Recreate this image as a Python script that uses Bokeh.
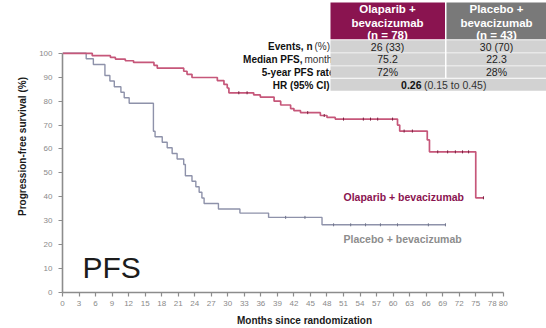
from math import pi
from bokeh.plotting import figure
from bokeh.models import Range1d, FixedTicker, LinearAxis
from bokeh.core.properties import value
from bokeh.embed import file_html
from bokeh.resources import INLINE

# ---------------- data ----------------
ola_months = [0, 5.4, 8.7, 9.6, 11.4, 12.9, 16.6, 17.2, 22.0, 22.6, 23.5, 28.1, 29.3,
              29.9, 30.2, 34.7, 35.9, 38.4, 39.6, 41.4, 42.0, 43.2, 46.8, 48.0, 49.5,
              60.8, 61.2, 66.2, 66.6, 75.0, 76.4]
ola_surv = [100, 99.0, 98.3, 97.6, 96.9, 96.2, 95.0, 93.8, 92.5, 91.2, 89.9, 88.6, 87.0,
            85.5, 83.5, 82.6, 81.7, 80.0, 78.4, 76.9, 76.0, 75.2, 74.0, 73.2, 72.5,
            70.0, 67.5, 63.8, 58.8, 39.6, 39.6]
ola_censored = [32.0, 33.5, 44.5, 47.5, 51.0, 54.6, 55.9, 57.2, 59.9, 62.0, 63.5,
                68.1, 69.9, 71.3, 72.6, 73.7, 76.4]

pla_months = [0, 4.3, 5.6, 7.7, 8.6, 9.4, 10.6, 11.2, 12.1, 16.5, 16.8, 18.1, 19.0, 19.9,
              20.8, 22.0, 22.3, 23.5, 24.2, 24.8, 25.3, 25.7, 28.3, 32.2, 37.4, 47.1, 69.5]
pla_surv = [100, 97.7, 95.3, 90.7, 88.4, 86.0, 83.7, 81.4, 79.1, 67.4, 65.1, 62.8, 60.5, 58.1,
            55.8, 53.5, 48.8, 46.5, 44.2, 41.9, 39.5, 37.2, 34.9, 33.2, 31.4, 28.3, 28.3]
pla_censored = [40.5, 44.0, 49.2, 52.3, 55.0, 57.7, 60.8, 66.4, 69.5]

x_ticks = list(range(0, 79, 3)) + [80]
y_ticks = list(range(0, 101, 10))

header_ola = ["Olaparib +", "bevacizumab", "(n = 78)"]
header_pla = ["Placebo +", "bevacizumab", "(n = 43)"]
row_values_ola = ["26 (33)", "75.2", "72%"]
row_values_pla = ["30 (70)", "22.3", "28%"]
hr_value = "0.26"
hr_ci = "(0.15 to 0.45)"

# ---------------- layout ----------------
FONT = "Liberation Sans"
FIG_W, FIG_H = 546, 328
X0_PAGE, Y0_PAGE = 62, 293       # pixel of (0 months, 0 %)
SX, SY = 5.51, 2.4                # px per month, px per %


def dx(px):
    return (px - X0_PAGE) / SX


def dy(py):
    return (Y0_PAGE - py) / SY


def surv_at(t, times, surv):
    s = surv[0]
    for ti, si in zip(times, surv):
        if ti <= t:
            s = si
    return s


OLA_LINE = "#c6577a"
OLA_DARK = "#8a1450"
PLA_LINE = "#8e92aa"
AXIS_C = "#8c8c8c"

p = figure(width=FIG_W, height=FIG_H,
           x_range=Range1d(0, dx(FIG_W)), y_range=Range1d(0, dy(0)),
           output_backend="svg", toolbar_location=None,
           min_border_left=X0_PAGE, min_border_right=0,
           min_border_top=0, min_border_bottom=FIG_H - Y0_PAGE)
p.outline_line_color = None
p.xgrid.visible = False
p.ygrid.visible = False
p.background_fill_color = "white"

for ax in (p.xaxis[0], p.yaxis[0]):
    ax.axis_line_color = AXIS_C
    ax.axis_line_width = 1.6
    ax.major_tick_line_color = AXIS_C
    ax.major_tick_line_width = 1.2
    ax.major_tick_out = 4
    ax.major_tick_in = 0
    ax.minor_tick_line_color = None
    ax.major_label_text_font = FONT
    ax.major_label_text_font_size = "8px"
    ax.major_label_text_color = "#8a8a8a"
p.xaxis.ticker = FixedTicker(ticks=x_ticks)
p.xaxis.bounds = (0, 80)
p.xaxis.major_label_standoff = 4
p.yaxis.ticker = FixedTicker(ticks=y_ticks)
p.yaxis.bounds = (0, 100)
p.yaxis.major_label_standoff = 6
p.yaxis.axis_label = "Progression-free survival (%)"
p.yaxis.axis_label_standoff = 8
p.yaxis.axis_label_text_font = FONT
p.yaxis.axis_label_text_font_size = "10px"
p.yaxis.axis_label_text_font_style = "bold"
p.yaxis.axis_label_text_color = "#1a1a1a"

# x title on its own (line-less) axis so it can sit where the original has it
xtitle = LinearAxis(ticker=FixedTicker(ticks=[]), bounds=(0, 2 * dx(271)),
                    axis_line_color=None, major_tick_line_color=None,
                    minor_tick_line_color=None,
                    axis_label="Months since randomization", axis_label_standoff=6,
                    axis_label_text_font=FONT, axis_label_text_font_size="10px",
                    axis_label_text_font_style="bold", axis_label_text_color="#1a1a1a")
p.add_layout(xtitle, "below")

# ---------------- curves ----------------
p.step(pla_months, pla_surv, mode="after", line_color=PLA_LINE, line_width=1.4)
p.step(ola_months, ola_surv, mode="after", line_color=OLA_LINE, line_width=1.7)
p.scatter(pla_censored, [surv_at(t, pla_months, pla_surv) for t in pla_censored],
          marker="dash", angle=pi / 2, size=3, line_color="#70748c", line_width=1)
p.scatter(ola_censored, [surv_at(t, ola_months, ola_surv) for t in ola_censored],
          marker="dash", angle=pi / 2, size=3, line_color="#7a2040", line_width=1)

# ---------------- table ----------------
# row labels (drawn first so the cells cover their overflow)
p.text(x=[dx(312), dx(302), dx(334), dx(329)],
       y=[dy(46.5), dy(59), dy(72), dy(85)],
       text=["Events, n", "Median PFS,", "5-year PFS rate", "HR (95% CI)"],
       text_font=value(FONT), text_font_size="10px", text_font_style="bold",
       text_align="right", text_baseline="middle", text_color="#111111")
p.text(x=[dx(314), dx(304)], y=[dy(46.5), dy(59)], text=["(%)", "months"],
       text_font=value(FONT), text_font_size="10px",
       text_align="left", text_baseline="middle", text_color="#333333")

# header cells
p.quad(left=[dx(330), dx(446)], right=[dx(444.5), dx(546)],
       top=[dy(2), dy(2)], bottom=[dy(39), dy(39)],
       fill_color=[OLA_DARK, "#797979"], line_color=None)
hdr_y = [9, 22.5, 35]
p.text(x=[dx(387)] * 3 + [dx(496)] * 3, y=[dy(v) for v in hdr_y] * 2,
       text=header_ola + header_pla,
       text_font=value(FONT), text_font_size="11.5px", text_font_style="bold",
       text_align="center", text_baseline="middle", text_color="white")

# body cells
row_tops = [40, 53, 66, 78.5]
row_bots = [52.2, 65.2, 77.5, 90.5]
left_c, right_c, tops, bots = [], [], [], []
for i in range(3):
    for l, r in ((330, 444.5), (446, 546)):
        left_c.append(dx(l)); right_c.append(dx(r))
        tops.append(dy(row_tops[i])); bots.append(dy(row_bots[i]))
left_c.append(dx(330)); right_c.append(dx(546))
tops.append(dy(row_tops[3])); bots.append(dy(row_bots[3]))
p.quad(left=left_c, right=right_c, top=tops, bottom=bots,
       fill_color="#d2d2d2", line_color=None)

row_y = [46.5, 59, 72]
p.text(x=[dx(387)] * 3 + [dx(496)] * 3, y=[dy(v) for v in row_y] * 2,
       text=row_values_ola + row_values_pla,
       text_font=value(FONT), text_font_size="10.5px",
       text_align="center", text_baseline="middle", text_color="#222222")
p.text(x=[dx(421)], y=[dy(85)], text=[hr_value],
       text_font=value(FONT), text_font_size="10.5px", text_font_style="bold",
       text_align="right", text_baseline="middle", text_color="#111111")
p.text(x=[dx(423.5)], y=[dy(85)], text=[hr_ci],
       text_font=value(FONT), text_font_size="10.5px",
       text_align="left", text_baseline="middle", text_color="#333333")

# ---------------- annotations ----------------
p.text(x=[dx(343)], y=[dy(197)], text=["Olaparib + bevacizumab"],
       text_font=value(FONT), text_font_size="10.5px", text_font_style="bold",
       text_align="left", text_baseline="middle", text_color=OLA_DARK)
p.text(x=[dx(343)], y=[dy(239)], text=["Placebo + bevacizumab"],
       text_font=value(FONT), text_font_size="10.5px", text_font_style="bold",
       text_align="left", text_baseline="middle", text_color="#8d8d8d")
p.text(x=[dx(82)], y=[dy(268)], text=["PFS"],
       text_font=value(FONT), text_font_size="30px",
       text_align="left", text_baseline="alphabetic", text_color="#1c1c1c")

open("out.html", "w").write(file_html(p, INLINE))
